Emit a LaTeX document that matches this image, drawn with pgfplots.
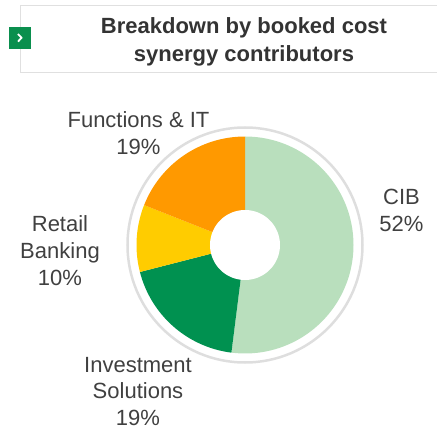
\documentclass[border=0pt]{standalone}
\usepackage{pgfplots}
\usepackage{pgfplotstable}
\pgfplotsset{compat=1.18}
\usepackage{fontspec}
\setmainfont{Liberation Sans}

\definecolor{cibgreen}{HTML}{B9DFBD}
\definecolor{invgreen}{HTML}{009150}
\definecolor{retyellow}{HTML}{FFCC00}
\definecolor{funorange}{HTML}{FF9900}
\definecolor{ringgrey}{HTML}{DEDEDE}
\definecolor{framegrey}{HTML}{E0E0E0}
\definecolor{boxgreen}{HTML}{0A8F4E}
\definecolor{txt}{HTML}{404040}
\definecolor{ttl}{HTML}{333333}

% share of booked cost synergies, clockwise from 12 o'clock
\pgfplotstableread{
value colour
52 cibgreen
19 invgreen
10 retyellow
19 funorange
}\sharetable

\newcommand\lbl{\fontsize{22bp}{27bp}\selectfont}
\newcommand\ttlfont{\fontsize{22bp}{27bp}\selectfont\bfseries}

\begin{document}
\begin{tikzpicture}
\begin{axis}[
    x=1bp, y=1bp,
    xmin=0, xmax=437,
    ymin=0, ymax=431,
    scale only axis,
    hide axis,
    clip=false,
]
% title frame and marker
\draw[framegrey, line width=1.3bp] (axis cs:437,425.3) -- (axis cs:20.7,425.3)
    -- (axis cs:20.7,358.7) -- (axis cs:437,358.7);
\fill[boxgreen] (axis cs:9,382.3) rectangle (axis cs:31,404);
\draw[white, line width=1.8bp] (axis cs:18,397) -- (axis cs:21.5,393.2) -- (axis cs:18,389.4);
\node[anchor=base, font=\ttlfont, text=ttl] at (axis cs:244,397) {Breakdown by booked cost};
\node[anchor=base, font=\ttlfont, text=ttl] at (axis cs:244,369.5) {synergy contributors};

% donut slices
\def\startangle{90}
\pgfplotsforeachungrouped \i in {0,...,3}{%
  \pgfplotstablegetelem{\i}{value}\of\sharetable \let\val\pgfplotsretval
  \pgfplotstablegetelem{\i}{colour}\of\sharetable \let\col\pgfplotsretval
  \pgfmathsetmacro\endangle{\startangle-3.6*\val}
  \edef\doslice{\noexpand\fill[\col] (axis cs:245,186) -- ++(\startangle:108.5bp)
    arc[start angle=\startangle, end angle=\endangle, radius=108.5bp] -- cycle;}
  \doslice
  \global\let\startangle\endangle
}
\fill[white] (axis cs:245,186) circle[radius=35bp];
\draw[ringgrey, line width=2.5bp] (axis cs:245,186) circle[radius=117.5bp];

% labels
\node[anchor=base, font=\lbl, text=txt] at (axis cs:138.5,304) {Functions \& IT};
\node[anchor=base, font=\lbl, text=txt] at (axis cs:138.5,277) {19\%};
\node[anchor=base, font=\lbl, text=txt] at (axis cs:401.5,227) {CIB};
\node[anchor=base, font=\lbl, text=txt] at (axis cs:401.5,200) {52\%};
\node[anchor=base, font=\lbl, text=txt] at (axis cs:60,200) {Retail};
\node[anchor=base, font=\lbl, text=txt] at (axis cs:60,173) {Banking};
\node[anchor=base, font=\lbl, text=txt] at (axis cs:60,146) {10\%};
\node[anchor=base, font=\lbl, text=txt] at (axis cs:138,59) {Investment};
\node[anchor=base, font=\lbl, text=txt] at (axis cs:138,33) {Solutions};
\node[anchor=base, font=\lbl, text=txt] at (axis cs:138,6) {19\%};
\end{axis}
\pgfresetboundingbox
\path[use as bounding box] (0,0) rectangle (437bp,431bp);
\end{tikzpicture}
\end{document}
